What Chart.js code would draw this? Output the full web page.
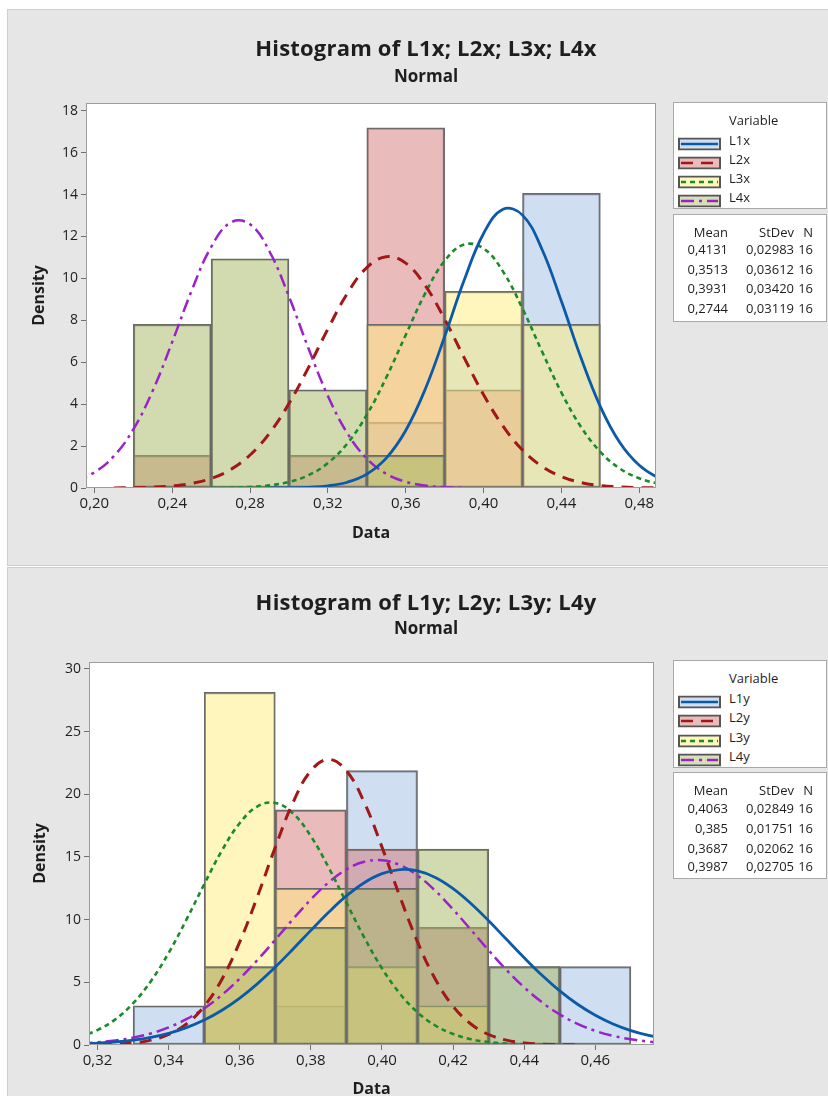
<!DOCTYPE html>
<html>
<head>
<meta charset="utf-8">
<script src="https://cdn.jsdelivr.net/npm/chart.js@4.4.1/dist/chart.umd.min.js"></script>
<style>
  body { margin: 0; width: 828px; height: 1096px; overflow: hidden; background: #fff; position: relative;
         font-family: 'Open Sans', sans-serif; color: #1e1e1e; }
  .panel { position: absolute; left: 8px; width: 820px; background: #e6e6e6; outline: 1px solid #cdcdcd; overflow: hidden; }
  .panel canvas { position: absolute; left: 0; top: 0; }
  .title { position: absolute; left: 0; width: 852px; text-align: center; font-weight: 700; white-space: nowrap; }
  .lbox { position: absolute; left: 673px; width: 154px; background: #fff; border: 1px solid #a9a9a9; box-sizing: border-box; }
  .txt { position: absolute; font-size: 13px; line-height: 16px; white-space: nowrap; transform: translateY(-50%); }
  .swatch { position: absolute; left: 678px; width: 43px; height: 13px; transform: translateY(-50%); }
</style>
</head>
<body>
<div class="panel" style="top:10px;height:555px"><canvas id="chartTop" width="820" height="555"></canvas></div>
<div class="panel" style="top:568px;height:540px"><canvas id="chartBottom" width="820" height="540"></canvas></div>

<div class="title" style="top:34px;font-size:22px;line-height:26px;letter-spacing:0.2px">Histogram of L1x; L2x; L3x; L4x</div>
<div class="title" style="top:65px;font-size:17px;line-height:21px">Normal</div>
<div class="title" style="top:588px;font-size:22px;line-height:26px;letter-spacing:0.2px">Histogram of L1y; L2y; L3y; L4y</div>
<div class="title" style="top:617px;font-size:17px;line-height:21px">Normal</div>

<script>
// ---- data: top histogram (x) ----
const seriesTop = ["L1x", "L2x", "L3x", "L4x"];
const binCentersTop = [0.24, 0.28, 0.32, 0.36, 0.40, 0.44];
const l1xDensity = [null, null, null, 3.13, 7.81, 14.06];
const l2xDensity = [1.56, null, 1.56, 17.19, 4.69, null];
const l3xDensity = [null, null, null, 7.81, 9.38, 7.81];
const l4xDensity = [7.81, 10.94, 4.69, 1.56, null, null];
const xTicksTop = [0.20, 0.24, 0.28, 0.32, 0.36, 0.40, 0.44, 0.48];
const yTicksTop = [0, 2, 4, 6, 8, 10, 12, 14, 16, 18];
const meanTop = ["0,4131", "0,3513", "0,3931", "0,2744"];
const stdevTop = ["0,02983", "0,03612", "0,03420", "0,03119"];
const countTop = ["16", "16", "16", "16"];

// fitted normal curves
const curveXTop = [0.19, 0.20, 0.21, 0.22, 0.23, 0.24, 0.25, 0.26, 0.27, 0.28, 0.29, 0.30, 0.31, 0.32, 0.33, 0.34,
  0.35, 0.36, 0.37, 0.38, 0.39, 0.40, 0.41, 0.42, 0.43, 0.44, 0.45, 0.46, 0.47, 0.48, 0.49, 0.50];
const l1xCurve = [null, null, null, null, null, null, null, null, null, null, 0.003, 0.010, 0.034, 0.103, 0.276, 0.664,
  1.427, 2.743, 4.709, 7.226, 9.909, 12.145, 13.302, 13.021, 11.391, 8.906, 6.223, 3.886, 2.169, 1.082, 0.481, 0.192];
const l2xCurve = [null, null, 0.005, 0.015, 0.039, 0.096, 0.216, 0.453, 0.877, 1.574, 2.616, 4.028, 5.745, 7.588, 9.282, 10.518,
  11.038, 10.729, 9.660, 8.055, 6.222, 4.450, 2.949, 1.810, 1.029, 0.541, 0.264, 0.119, 0.050, 0.019, 0.006, null];
const l3xCurve = [null, null, null, null, null, null, null, 0.006, 0.018, 0.049, 0.124, 0.287, 0.609, 1.188, 2.127, 3.495,
  5.273, 7.303, 9.287, 10.839, 11.617, 11.430, 10.325, 8.562, 6.518, 4.555, 2.923, 1.722, 0.931, 0.462, 0.211, 0.088];
const l4xCurve = [0.329, 0.743, 1.517, 2.795, 4.643, 6.962, 9.419, 11.497, 12.664, 12.586, 11.286, 9.132, 6.668, 4.393, 2.612, 1.401,
  0.678, 0.296, 0.117, 0.041, 0.013, null, null, null, null, null, null, null, null, null, null, null];

// ---- data: bottom histogram (y) ----
const seriesBottom = ["L1y", "L2y", "L3y", "L4y"];
const binCentersBottom = [0.34, 0.36, 0.38, 0.40, 0.42, 0.44, 0.46];
const l1yDensity = [3.13, null, 3.13, 21.88, 9.38, 6.25, 6.25];
const l2yDensity = [null, 6.25, 18.75, 15.63, 9.38, null, null];
const l3yDensity = [null, 28.13, 12.5, 6.25, 3.13, null, null];
const l4yDensity = [null, 6.25, 9.38, 12.5, 15.63, 6.25, null];
const xTicksBottom = [0.32, 0.34, 0.36, 0.38, 0.40, 0.42, 0.44, 0.46];
const yTicksBottom = [0, 5, 10, 15, 20, 25, 30];
const meanBottom = ["0,4063", "0,385", "0,3687", "0,3987"];
const stdevBottom = ["0,02849", "0,01751", "0,02062", "0,02705"];
const countBottom = ["16", "16", "16", "16"];

const curveXBottom = [0.315, 0.320, 0.325, 0.330, 0.335, 0.340, 0.345, 0.350, 0.355, 0.360, 0.365, 0.370, 0.375, 0.380, 0.385, 0.390, 0.395,
  0.400, 0.405, 0.410, 0.415, 0.420, 0.425, 0.430, 0.435, 0.440, 0.445, 0.450, 0.455, 0.460, 0.465, 0.470, 0.475, 0.480];
const l1yCurve = [0.082, 0.143, 0.239, 0.388, 0.611, 0.934, 1.384, 1.987, 2.768, 3.739, 4.897, 6.219, 7.658, 9.145, 10.589, 11.889, 12.943,
  13.666, 13.989, 13.886, 13.366, 12.474, 11.289, 9.907, 8.431, 6.957, 5.566, 4.319, 3.249, 2.371, 1.676, 1.150, 0.765, 0.493];
const l2yCurve = [0.008, 0.023, 0.064, 0.164, 0.386, 0.838, 1.676, 3.089, 5.250, 8.221, 11.866, 15.785, 19.355, 21.875, 22.784, 21.875, 19.355,
  15.785, 11.866, 8.221, 5.250, 3.089, 1.676, 0.838, 0.386, 0.164, 0.064, 0.023, 0.008, null, null, null, null, null];
const l3yCurve = [0.652, 1.189, 2.047, 3.324, 5.088, 7.344, 9.995, 12.823, 15.516, 17.699, 19.038, 19.308, 18.465, 16.650, 14.156, 11.347, 8.577,
  6.114, 4.109, 2.604, 1.555, 0.876, 0.465, 0.233, 0.110, 0.049, 0.021, 0.008, null, null, null, null, null, null];
const l4yCurve = [0.123, 0.214, 0.360, 0.586, 0.922, 1.400, 2.056, 2.917, 4.000, 5.300, 6.787, 8.400, 10.046, 11.613, 12.972, 14.005, 14.611,
  14.730, 14.354, 13.515, 12.298, 10.816, 9.192, 7.551, 5.994, 4.597, 3.408, 2.442, 1.690, 1.131, 0.732, 0.457, 0.276, 0.161];

// ---- styles ----
const barFills = ["rgba(159,189,225,0.5)", "rgba(211,119,119,0.5)", "rgba(255,237,125,0.5)", "rgba(168,186,104,0.52)"];
const swatchFills = ["#cfdef0", "#e9bbbb", "#fff6be", "#d6dfb8"];
const lineColors = ["#0b5aa8", "#a01818", "#1a8a2a", "#9a22c8"];
const lineDashes = [[], [12, 8], [5, 4], [13, 5, 3, 5]];
const lineWidths = [2.8, 3, 2.6, 2.5];

Chart.defaults.font.family = "'Open Sans', sans-serif";
Chart.defaults.color = "#1e1e1e";

const plotFrame = {
  id: "plotFrame",
  beforeDraw(chart) {
    const { ctx, chartArea: a } = chart;
    ctx.save();
    ctx.fillStyle = "#fff";
    ctx.fillRect(a.left, a.top, a.right - a.left, a.bottom - a.top);
    ctx.restore();
  },
  afterDraw(chart) {
    const { ctx, chartArea: a } = chart;
    ctx.save();
    ctx.strokeStyle = "#9c9c9c";
    ctx.lineWidth = 1;
    ctx.strokeRect(a.left + 0.5, a.top + 0.5, a.right - a.left - 1, a.bottom - a.top - 1);
    ctx.restore();
  },
};

function toPoints(xs, ys) {
  return xs.map((x, i) => ({ x, y: ys[i] })).filter((p) => p.y !== null);
}

function formatDecimal(value) {
  return value.toFixed(2).replace(".", ",");
}

function createHistogram(canvasId, cfg) {
  const datasets = [];

  cfg.densities.forEach((values, i) => {
    datasets.push({
      type: "bar",
      label: cfg.names[i],
      data: cfg.binCenters.map((x, k) => ({ x, y: values[k] })),
      backgroundColor: barFills[i],
      borderColor: "#6a6a6a",
      borderWidth: 1.5,
      borderSkipped: false,
      grouped: false,
      barPercentage: 1,
      categoryPercentage: 1,
      order: 10 - i,
    });
  });

  cfg.curves.forEach((values, i) => {
    datasets.push({
      type: "line",
      label: cfg.names[i] + " fit",
      data: toPoints(cfg.curveX, values),
      borderColor: lineColors[i],
      borderDash: lineDashes[i],
      borderWidth: lineWidths[i],
      pointRadius: 0,
      fill: false,
      tension: 0.4,
      order: 1,
    });
  });

  return new Chart(document.getElementById(canvasId), {
    data: { datasets },
    plugins: [plotFrame],
    options: {
      responsive: false,
      animation: false,
      layout: { padding: cfg.padding },
      plugins: { legend: { display: false }, tooltip: { enabled: false } },
      scales: {
        x: {
          type: "linear",
          min: cfg.xMin,
          max: cfg.xMax,
          offset: false,
          afterBuildTicks: (axis) => { axis.ticks = cfg.xTicks.map((value) => ({ value })); },
          afterFit: (axis) => { axis.height = cfg.xAxisHeight; },
          grid: { drawOnChartArea: false, offset: false, tickLength: 5, color: "#707070" },
          border: { display: false },
          ticks: { autoSkip: false, maxRotation: 0, padding: 2, font: { size: 15 }, callback: (v) => formatDecimal(v) },
          title: { display: true, text: "Data", font: { size: 16, weight: "bold" }, padding: { top: 4, bottom: 4 } },
        },
        y: {
          type: "linear",
          min: 0,
          max: cfg.yMax,
          afterBuildTicks: (axis) => { axis.ticks = cfg.yTicks.map((value) => ({ value })); },
          afterFit: (axis) => { axis.width = cfg.yAxisWidth; },
          grid: { drawOnChartArea: false, tickLength: 5, color: "#707070" },
          border: { display: false },
          ticks: { padding: 3, font: { size: 14 } },
          title: { display: true, text: "Density", font: { size: 16, weight: "bold" }, padding: { top: 4, bottom: 4 } },
        },
      },
    },
  });
}

createHistogram("chartTop", {
  names: seriesTop,
  binCenters: binCentersTop,
  densities: [l1xDensity, l2xDensity, l3xDensity, l4xDensity],
  curveX: curveXTop,
  curves: [l1xCurve, l2xCurve, l3xCurve, l4xCurve],
  xTicks: xTicksTop,
  yTicks: yTicksTop,
  xMin: 0.1957,
  xMax: 0.4886,
  yMax: 18.37,
  padding: { left: 18, right: 172, top: 93, bottom: 18 },
  yAxisWidth: 60,
  xAxisHeight: 59,
});

createHistogram("chartBottom", {
  names: seriesBottom,
  binCenters: binCentersBottom,
  densities: [l1yDensity, l2yDensity, l3yDensity, l4yDensity],
  curveX: curveXBottom,
  curves: [l1yCurve, l2yCurve, l3yCurve, l4yCurve],
  xTicks: xTicksBottom,
  yTicks: yTicksBottom,
  xMin: 0.3176,
  xMax: 0.4765,
  yMax: 30.55,
  padding: { left: 19, right: 174, top: 94, bottom: 5 },
  yAxisWidth: 62,
  xAxisHeight: 58,
});

// ---- legend + stats boxes (HTML) ----
function addEl(cls, css, text) {
  const el = document.createElement("div");
  el.className = cls;
  el.style.cssText = css;
  if (text !== undefined) el.textContent = text;
  document.body.appendChild(el);
  return el;
}

function swatchSvg(i) {
  const dash = lineDashes[i].join(",");
  return `<svg width="43" height="13" xmlns="http://www.w3.org/2000/svg">
    <rect x="1" y="1" width="41" height="11" fill="${swatchFills[i]}" stroke="#555" stroke-width="2"/>
    <line x1="3" y1="6.5" x2="40" y2="6.5" stroke="${lineColors[i]}" stroke-width="2.5"
      ${dash ? `stroke-dasharray="${dash}"` : ""}/>
  </svg>`;
}

function buildLegend(names, means, stdevs, counts, pos) {
  addEl("lbox", `top:${pos.box1Top}px;height:${pos.box1Height}px`);
  addEl("lbox", `top:${pos.box2Top}px;height:${pos.box2Height}px`);
  addEl("txt", `left:729px;top:${pos.variableY}px`, "Variable");
  names.forEach((name, i) => {
    const y = pos.itemY[i];
    const sw = addEl("swatch", `top:${y}px`);
    sw.innerHTML = swatchSvg(i);
    addEl("txt", `left:729px;top:${y}px`, name);
  });
  const cols = [{ right: 100, key: "Mean" }, { right: 34, key: "StDev" }, { right: 15, key: "N" }];
  cols.forEach((c) => addEl("txt", `right:${c.right}px;top:${pos.headerY}px`, c.key));
  names.forEach((_, i) => {
    const y = pos.rowY[i];
    addEl("txt", `right:100px;top:${y}px`, means[i]);
    addEl("txt", `right:34px;top:${y}px`, stdevs[i]);
    addEl("txt", `right:15px;top:${y}px`, counts[i]);
  });
}

buildLegend(seriesTop, meanTop, stdevTop, countTop, {
  box1Top: 102, box1Height: 107, box2Top: 214, box2Height: 108,
  variableY: 120, itemY: [140, 158.5, 178, 197],
  headerY: 232, rowY: [248.5, 268.5, 288, 308],
});

buildLegend(seriesBottom, meanBottom, stdevBottom, countBottom, {
  box1Top: 660, box1Height: 108, box2Top: 772, box2Height: 107,
  variableY: 678, itemY: [697.5, 716.5, 736.5, 756],
  headerY: 790, rowY: [808, 827.5, 848, 866],
});
</script>
</body>
</html>
